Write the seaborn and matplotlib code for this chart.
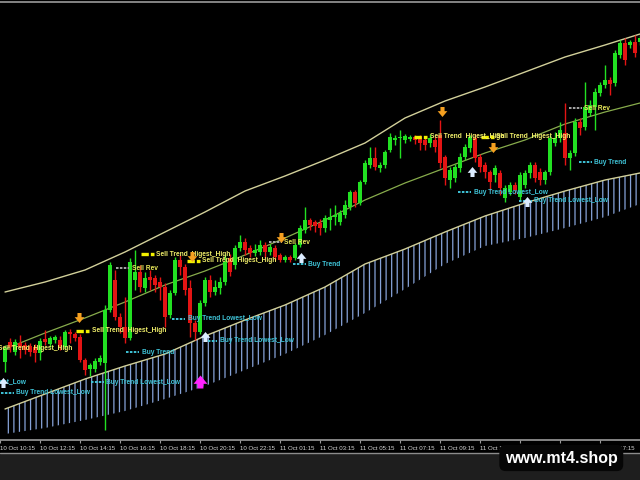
import matplotlib
matplotlib.use("Agg")
import numpy as np
import pandas as pd
import matplotlib.pyplot as plt
import seaborn as sns
from matplotlib.patches import Rectangle
from matplotlib.lines import Line2D

# 15 minute candles, price in chart units
opens = [78, 98, 88, 97, 95, 94, 93, 87, 101, 96, 100, 100, 93, 108, 106, 103,
         80, 71, 71, 78, 77, 130, 160, 123, 113, 102, 160, 168, 152, 163, 162, 158,
         153, 125, 147, 180, 173, 152, 117, 108, 137, 160, 148, 152, 158, 182, 175, 192,
         198, 192, 187, 188, 195, 188, 192, 185, 180, 183, 182, 195, 210, 220, 218, 217,
         212, 220, 223, 218, 225, 233, 248, 237, 258, 275, 282, 272, 275, 290, 300, 302,
         300, 301, 303, 303, 300, 297, 300, 305, 283, 260, 262, 272, 283, 292, 302, 283,
         275, 268, 265, 267, 242, 248, 255, 243, 255, 267, 275, 268, 260, 268, 297, 302,
         307, 282, 287, 318, 313, 327, 333, 347, 355, 360, 357, 385, 397, 395, 398, 398]
highs = [95, 102, 101, 105, 98, 97, 96, 102, 110, 104, 105, 104, 110, 111, 108, 106,
         82, 77, 82, 85, 135, 178, 170, 127, 143, 182, 190, 175, 168, 170, 165, 163,
         157, 150, 183, 185, 176, 160, 120, 140, 163, 165, 160, 163, 186, 186, 195, 205,
         202, 195, 196, 200, 198, 196, 195, 187, 185, 185, 197, 215, 233, 222, 220, 221,
         225, 232, 235, 230, 240, 250, 250, 260, 280, 293, 293, 278, 290, 307, 305, 310,
         306, 305, 305, 305, 303, 306, 304, 320, 285, 273, 276, 287, 296, 305, 306, 286,
         278, 270, 275, 270, 255, 258, 258, 268, 270, 278, 278, 272, 270, 305, 308, 318,
         337, 290, 322, 322, 358, 340, 352, 358, 375, 363, 390, 400, 402, 400, 405, 405]
lows = [68, 88, 85, 82, 86, 84, 78, 80, 95, 93, 97, 90, 91, 97, 99, 78,
        65, 64, 68, 75, 10, 128, 120, 107, 97, 100, 150, 148, 148, 150, 148, 140,
        113, 122, 145, 165, 145, 103, 100, 106, 134, 143, 145, 146, 155, 164, 171, 189,
        185, 183, 184, 185, 183, 185, 180, 178, 178, 178, 180, 193, 207, 210, 208, 205,
        208, 210, 215, 215, 222, 230, 233, 235, 256, 272, 270, 268, 272, 288, 295, 282,
        297, 299, 296, 290, 290, 293, 288, 272, 255, 252, 258, 268, 280, 288, 278, 268,
        262, 250, 258, 245, 238, 245, 246, 240, 252, 262, 258, 255, 256, 265, 294, 298,
        275, 270, 284, 305, 310, 324, 310, 344, 352, 345, 354, 382, 375, 392, 383, 395]
closes = [92, 93, 98, 93, 90, 88, 87, 99, 98, 102, 103, 93, 108, 106, 102, 80,
          70, 75, 79, 82, 130, 175, 123, 113, 102, 178, 168, 153, 162, 160, 155, 153,
          123, 147, 180, 173, 150, 117, 108, 137, 160, 148, 153, 158, 178, 168, 192, 198,
          190, 187, 190, 195, 188, 193, 183, 180, 183, 180, 195, 212, 220, 215, 214, 212,
          222, 223, 225, 227, 235, 248, 237, 258, 277, 282, 273, 275, 288, 303, 302, 303,
          304, 303, 300, 297, 295, 302, 293, 277, 262, 270, 273, 283, 293, 303, 282, 273,
          268, 258, 272, 252, 252, 255, 250, 265, 267, 275, 262, 260, 268, 302, 302, 310,
          282, 287, 318, 312, 333, 335, 348, 355, 360, 356, 387, 397, 380, 398, 387, 402]

# envelope / channel indicator, sampled every 8 candles
band_idx = [0, 8, 16, 24, 32, 40, 48, 56, 64, 72, 80, 88, 96, 104, 112, 120, 127]
upper_band = [148, 158, 170, 188, 208, 228, 249, 264, 280, 297, 322, 339, 353, 368, 383, 395, 406]
middle_line = [91, 107, 122, 138, 155, 169, 185, 202, 220, 240, 257, 272, 287, 300, 316, 328, 337]
lower_band = [31, 46, 61, 74, 86, 104, 120, 135, 153, 176, 191, 208, 224, 237, 249, 260, 267]
histo_floor = [6, 12, 20, 29, 41, 54, 70, 86, 105, 127, 151, 176, 194, 202, 212, 223, 236]

time_ticks = [-1, 7, 15, 23, 31, 39, 47, 55, 63, 71, 79, 87, 95, 103, 111, 119]
time_labels = ["10 Oct 10:15", "10 Oct 12:15", "10 Oct 14:15", "10 Oct 16:15",
               "10 Oct 18:15", "10 Oct 20:15", "10 Oct 22:15", "11 Oct 01:15",
               "11 Oct 03:15", "11 Oct 05:15", "11 Oct 07:15", "11 Oct 09:15",
               "11 Oct 11:15", "11 Oct 13:15", "11 Oct 15:15", "11 Oct 17:15"]

# signal labels: text, kind, candle where the dash starts, price
signal_texts = ["Buy Trend Lowest_Low", "Buy Trend Lowest_Low", "Sell Trend  Higest_High",
                "Sell Trend  Higest_High", "Buy Trend", "Buy Trend Lowest_Low",
                "Buy Trend Lowest_Low", "Buy Trend Lowest_Low", "Sell Rev",
                "Sell Trend  Higest_High", "Sell Trend  Higest_High", "Sell Rev",
                "Buy Trend", "Sell Trend  Higest_High", "Sell Trend  Higest_High",
                "Buy Trend Lowest_Low", "Buy Trend Lowest_Low", "Buy Trend", "Sell Rev"]
signal_kinds = ["buy", "buy", "sell", "sell", "buy", "buy", "buy", "buy", "rev",
                "sell", "sell", "rev", "buy", "sell", "sell", "buy", "buy", "buy", "rev"]
signal_idx = [-0.9, -13.9, -4.7, 14.1, 24.1, 17.1, 39.7, 33.3, 22.1,
              27.1, 36.3, 52.7, 57.5, 81.7, 95.1, 90.5, 102.7, 114.7, 112.7]
signal_price = [47, 57, 91, 109, 88, 58, 99, 121, 172,
                186, 179, 198, 176, 303, 303, 248, 239, 278, 332]

buy_arrow_idx = [-0.3, 40.1, 59.3, 93.5, 104.5]
buy_arrow_price = [57, 103, 182, 268, 238]
sell_arrow_idx = [14.9, 37.5, 55.3, 87.5, 97.7]
sell_arrow_price = [122, 183, 202, 328, 292]
alert_arrow_idx = [39.1]
alert_arrow_price = [58]

GREEN = "#22e022"
RED = "#e41414"
SANS = ["Liberation Sans", "DejaVu Sans"]
SIGNAL_STYLE = {
    "buy": dict(dash="#3fc4d8", text="#3fc4d8", lw=1.4, ls=(0, (1.3, 0.7))),
    "sell": dict(dash="#f2f000", text="#f0ee6a", lw=2.4, ls=(0, (2.2, 0.6))),
    "rev": dict(dash="#a8a8a8", text="#eaea5a", lw=1.4, ls=(0, (1.3, 0.7))),
}

sns.set_theme(style="dark")
plt.rcParams["font.family"] = SANS
plt.rcParams["hatch.linewidth"] = 0.9

fig = plt.figure(figsize=(6.4, 4.8), dpi=100, facecolor="black")
ax = fig.add_axes([0, 40 / 480, 1, 438 / 480])
ax.set_facecolor("black")

# histogram under the lower band
ax.fill_between(band_idx, histo_floor, lower_band, facecolor="none",
                edgecolor="#86a2d8", hatch="|||", linewidth=0, zorder=1)

sns.lineplot(x=band_idx, y=upper_band, ax=ax, color="#d2d09a", lw=1.0, estimator=None, zorder=2)
sns.lineplot(x=band_idx, y=lower_band, ax=ax, color="#d2d09a", lw=1.0, estimator=None, zorder=2)
sns.lineplot(x=band_idx, y=middle_line, ax=ax, color="#88ac4c", lw=0.9, estimator=None, zorder=2)

candles = pd.DataFrame({"open": opens, "high": highs, "low": lows, "close": closes})
candles["idx"] = np.arange(len(candles))
colors = np.where(candles["close"] >= candles["open"], GREEN, RED)
body_low = candles[["open", "close"]].min(axis=1)
body_h = (candles["close"] - candles["open"]).abs().clip(lower=1.5)
ax.vlines(candles["idx"], candles["low"], candles["high"], colors=colors, lw=1, zorder=3)
ax.bar(candles["idx"], body_h, bottom=body_low, width=0.62, color=colors, linewidth=0, zorder=4)

for text, kind, i0, p in zip(signal_texts, signal_kinds, signal_idx, signal_price):
    st = SIGNAL_STYLE[kind]
    ax.plot([i0, i0 + 2.7], [p, p], color=st["dash"], lw=st["lw"], ls=st["ls"],
            solid_capstyle="butt", dash_capstyle="butt", zorder=5)
    ax.text(i0 + 3.2, p, text, color=st["text"], fontsize=4.8, fontweight="bold",
            va="center", ha="left", zorder=6, clip_on=True)


def draw_arrow(i, p, color, up, size=7, half=5):
    d = half if up else -half
    ax.annotate("", xy=(i, p + d), xytext=(i, p - d), zorder=7,
                arrowprops=dict(arrowstyle="simple,head_length=0.6,head_width=1.0,tail_width=0.42",
                                fc=color, ec="none", mutation_scale=size,
                                shrinkA=0, shrinkB=0))


for i, p in zip(buy_arrow_idx, buy_arrow_price):
    draw_arrow(i, p, "#dcecff", True)
for i, p in zip(sell_arrow_idx, sell_arrow_price):
    draw_arrow(i, p, "#f5a020", False)
for i, p in zip(alert_arrow_idx, alert_arrow_price):
    draw_arrow(i, p, "#ff22ff", True, size=10, half=6.5)

ax.set_xlim(-1, 127)
ax.set_ylim(0, 438)
ax.set_yticks([])
ax.set_xticks(time_ticks)
ax.set_xticklabels(time_labels, ha="left")
ax.tick_params(axis="x", colors="#9a9a9a", labelcolor="#d6d6d6", labelsize=4.4,
               length=2.5, width=0.8, pad=1.5, direction="out", bottom=True)
ax.grid(False)
for side in ["left", "right"]:
    ax.spines[side].set_visible(False)
for side in ["top", "bottom"]:
    ax.spines[side].set_visible(True)
    ax.spines[side].set_color("#9a9a9a")
    ax.spines[side].set_linewidth(1.2)

# status strip below the time axis
fig.add_artist(Rectangle((0, 0), 1, 27 / 480, transform=fig.transFigure,
                         facecolor="#1e1e1e", edgecolor="none", zorder=0))
fig.add_artist(Line2D([0, 1], [27 / 480, 27 / 480], transform=fig.transFigure,
                      color="#8c8c8c", lw=1))

fig.text(0.877, 1 - 458 / 480, "www.mt4.shop", color="white", fontsize=11.5,
         fontweight="bold", ha="center", va="center",
         bbox=dict(boxstyle="round,pad=0.35,rounding_size=0.4", fc="#060606", ec="none"))

fig.savefig("out.png", dpi=100, facecolor="black")
